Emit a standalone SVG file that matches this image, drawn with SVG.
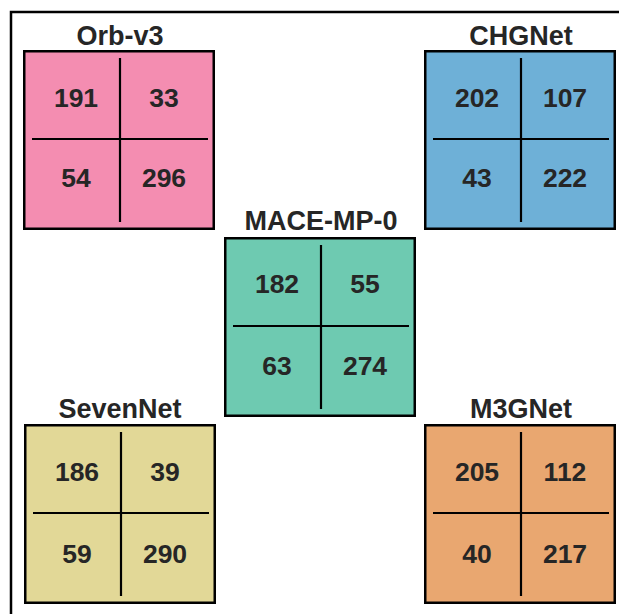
<svg xmlns="http://www.w3.org/2000/svg" width="619" height="614" viewBox="0 0 619 614">
  <style>
    .box { stroke: #000; stroke-width: 2.5; }
    .div { stroke: #000; stroke-width: 2.2; fill: none; }
    .title { font-family: "Liberation Sans", Arial, sans-serif; font-weight: bold; font-size: 27px; fill: #262626; text-anchor: middle; }
    .num { font-family: "Liberation Sans", Arial, sans-serif; font-weight: bold; font-size: 26.5px; fill: #262626; text-anchor: middle; }
  </style>
  <defs>
    <!-- quadrant dividers shared by every matrix; origin = box outer top-left -->
    <g id="cross">
      <line class="div" x1="97" y1="8" x2="97" y2="172"/>
      <line class="div" x1="9" y1="89" x2="185" y2="89"/>
    </g>
  </defs>
  <rect width="619" height="614" fill="#fff"/>
  <!-- outer frame (left and top edges visible) -->
  <path d="M11,614 V12 H619" fill="none" stroke="#000" stroke-width="2.5"/>

  <g id="orb-v3" transform="translate(23,50)">
    <text class="title" x="97" y="-5">Orb-v3</text>
    <rect class="box" x="1.25" y="1.25" width="189.5" height="177.5" fill="#f48db1"/>
    <use href="#cross"/>
    <text class="num" x="53" y="57">191</text>
    <text class="num" x="141" y="57">33</text>
    <text class="num" x="53" y="137">54</text>
    <text class="num" x="141" y="137">296</text>
  </g>

  <g id="chgnet" transform="translate(424,50)">
    <text class="title" x="97" y="-5">CHGNet</text>
    <rect class="box" x="1.25" y="1.25" width="189.5" height="177.5" fill="#6eb0d7"/>
    <use href="#cross"/>
    <text class="num" x="53" y="57">202</text>
    <text class="num" x="141" y="57">107</text>
    <text class="num" x="53" y="137">43</text>
    <text class="num" x="141" y="137">222</text>
  </g>

  <g id="mace-mp-0" transform="translate(224,237)">
    <text class="title" x="97" y="-7">MACE-MP-0</text>
    <rect class="box" x="1.25" y="1.25" width="189.5" height="177.5" fill="#6ecab1"/>
    <use href="#cross"/>
    <text class="num" x="53" y="56">182</text>
    <text class="num" x="141" y="56">55</text>
    <text class="num" x="53" y="138">63</text>
    <text class="num" x="141" y="138">274</text>
  </g>

  <g id="sevennet" transform="translate(24,424)">
    <text class="title" x="96" y="-6">SevenNet</text>
    <rect class="box" x="1.25" y="1.25" width="189.5" height="177.5" fill="#e2d897"/>
    <use href="#cross"/>
    <text class="num" x="53" y="57">186</text>
    <text class="num" x="141" y="57">39</text>
    <text class="num" x="53" y="139">59</text>
    <text class="num" x="141" y="139">290</text>
  </g>

  <g id="m3gnet" transform="translate(424,424)">
    <text class="title" x="97" y="-6">M3GNet</text>
    <rect class="box" x="1.25" y="1.25" width="189.5" height="177.5" fill="#e9a770"/>
    <use href="#cross"/>
    <text class="num" x="53" y="57">205</text>
    <text class="num" x="141" y="57">112</text>
    <text class="num" x="53" y="139">40</text>
    <text class="num" x="141" y="139">217</text>
  </g>
</svg>
